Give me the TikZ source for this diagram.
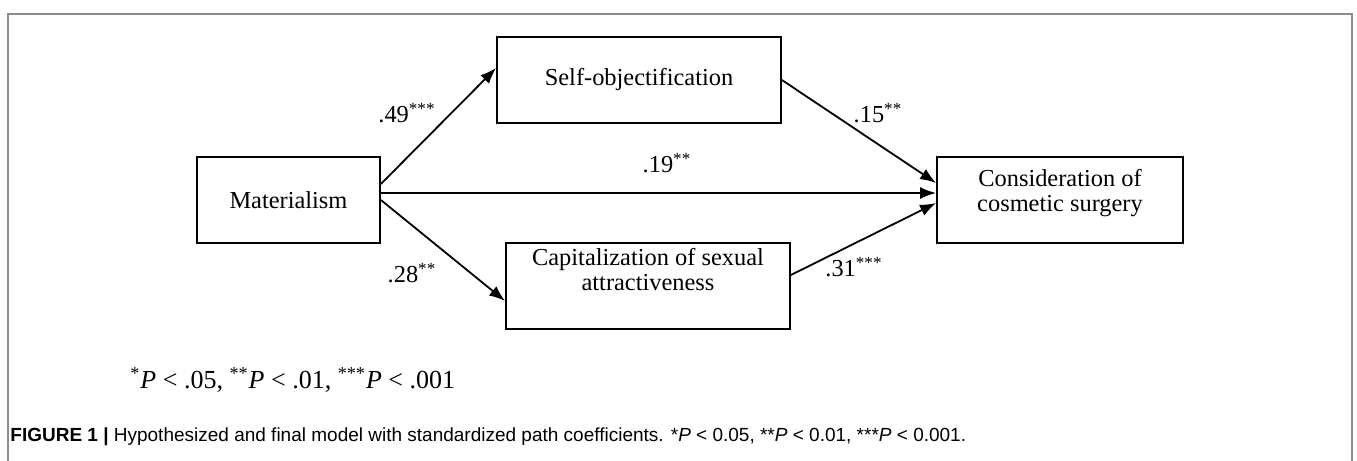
\documentclass[tikz,border=0pt]{standalone}
\usepackage{fontspec}
\setmainfont{Liberation Serif}
\newfontfamily\capfont{Liberation Sans}
\usetikzlibrary{arrows.meta}
\begin{document}
\begin{tikzpicture}[x=0.5pt,y=-0.5pt,
  box/.style={draw, line width=0.9pt, inner sep=0pt, align=center,
    font=\fontsize{12.2}{12.5}\selectfont, minimum height=43pt},
  lbl/.style={inner sep=0pt, font=\fontsize{12.2}{14}\selectfont},
  arr/.style={line width=0.9pt, -{Latex[length=8pt,width=6pt]}}]
\useasboundingbox (0,0) rectangle (1357,461);
\draw[black!45, line width=1.1pt] (8,470) -- (8,14) -- (1352,14) -- (1352,470);

\node[box, minimum width=91.5pt] (mat) at (288.5,200) {Materialism};
\node[box, minimum width=142pt] (self) at (639,80) {Self-objectification};
\node[box, minimum width=123pt, text depth=10pt] (cons) at (1060,200) {Consideration of\\cosmetic surgery};
\node[box, minimum width=142pt, text depth=17pt] (cap) at (648,286) {Capitalization of sexual\\attractiveness};

\draw[arr] ([yshift=8pt]mat.east) -- ([yshift=6pt]self.west);
\draw[arr] ([yshift=3.5pt]mat.east) -- ([yshift=3.5pt]cons.west);
\draw[arr] (self.east) -- ([yshift=8.5pt]cons.west);
\draw[arr] (mat.east) -- ([yshift=-7.5pt]cap.west);
\draw[arr] ([yshift=5.5pt]cap.east) -- ([yshift=-1.5pt]cons.west);

\node[lbl] (l49) at (407,113) {.49\textsuperscript{***}};
\node[lbl] (l19) at (667,163) {.19\textsuperscript{**}};
\node[lbl] (l15) at (878,113) {.15\textsuperscript{**}};
\node[lbl] (l28) at (412,273) {.28\textsuperscript{**}};
\node[lbl] (l31) at (854,267) {.31\textsuperscript{***}};

\node[inner sep=0pt, anchor=west, font=\fontsize{13}{15}\selectfont] (legend) at (130,380) {\textsuperscript{*}\textit{P} < .05, \textsuperscript{**}\textit{P} < .01, \textsuperscript{***}\textit{P} < .001};

\node[inner sep=0pt, anchor=west, font=\capfont\fontsize{9.5}{11}\selectfont] (caption) at (10,437)
  {\textbf{FIGURE 1 |} Hypothesized and final model with standardized path coefficients. *\textit{P} < 0.05, **\textit{P} < 0.01, ***\textit{P} < 0.001.};
\end{tikzpicture}
\end{document}
